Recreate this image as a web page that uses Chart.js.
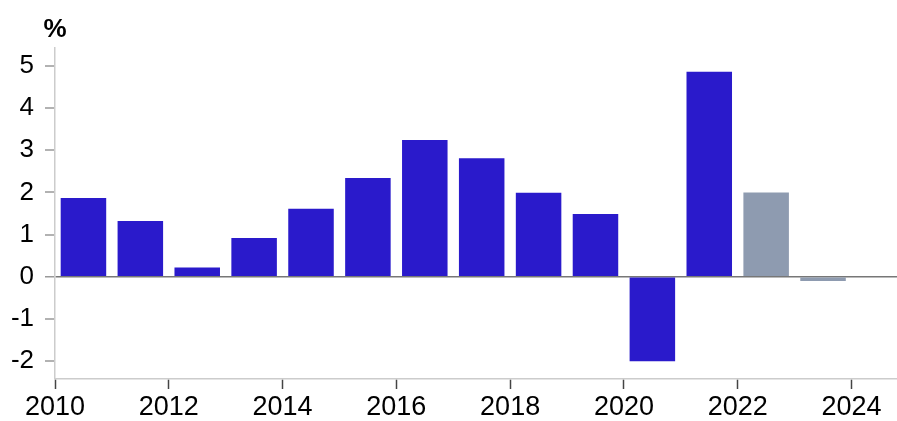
<!DOCTYPE html>
<html>
<head>
<meta charset="utf-8">
<script src="https://cdn.jsdelivr.net/npm/chart.js@4"></script>
<style>
    body { margin: 0; background: #fff; }
    #wrap { width: 897px; height: 421px; }
</style>
</head>
<body>
<div id="wrap"><canvas id="barChart"></canvas></div>
<script>
// Data
const years = [2010, 2011, 2012, 2013, 2014, 2015, 2016, 2017, 2018, 2019, 2020, 2021, 2022, 2023];
const values = [1.87, 1.32, 0.22, 0.92, 1.61, 2.34, 3.24, 2.81, 1.99, 1.49, -2.0, 4.86, 2.0, -0.1];
const forecastFrom = 2022; // bars from here on are grey
const xTicks = [2010, 2012, 2014, 2016, 2018, 2020, 2022, 2024];
const yTicks = [-2, -1, 0, 1, 2, 3, 4, 5];
const unitLabel = '%';

const FONT = "'Liberation Sans', Arial, sans-serif";
Chart.defaults.font.family = FONT;
Chart.defaults.font.size = 26;
Chart.defaults.color = '#000';

// Draws the "%" above the y axis
const unitPlugin = {
    id: 'unitLabel',
    afterDraw(chart) {
        const ctx = chart.ctx;
        ctx.save();
        ctx.font = 'bold 26px ' + FONT;
        ctx.fillStyle = '#000';
        ctx.textAlign = 'center';
        ctx.textBaseline = 'alphabetic';
        ctx.fillText(unitLabel, chart.chartArea.left, 37);
        ctx.restore();
    }
};

new Chart(document.getElementById('barChart'), {
    type: 'bar',
    data: {
        datasets: [{
            data: years.map((y, i) => ({ x: y + 0.5, y: values[i] })),
            backgroundColor: years.map(y => y >= forecastFrom ? '#8e9bb0' : '#2a1acb'),
            barPercentage: 0.8,
            categoryPercentage: 1
        }]
    },
    options: {
        responsive: true,
        maintainAspectRatio: false,
        animation: false,
        layout: { padding: { top: 48, right: 0, left: 0, bottom: 0 } },
        plugins: {
            legend: { display: false },
            tooltip: { enabled: false }
        },
        scales: {
            x: {
                type: 'linear',
                offset: false,
                min: 2010,
                max: 2024.8,
                afterBuildTicks: s => { s.ticks = xTicks.map(v => ({ value: v })); },
                afterFit: s => { s.height = 42; },
                ticks: {
                    callback: v => String(v),
                    padding: 2,
                    maxRotation: 0,
                    font: { size: 27 }
                },
                grid: {
                    offset: false,
                    drawOnChartArea: false,
                    drawTicks: true,
                    tickLength: 10,
                    tickColor: '#444',
                    tickWidth: 1.5
                },
                border: { color: '#ccc', width: 1.5 }
            },
            y: {
                min: -2.42,
                max: 5.42,
                afterBuildTicks: s => { s.ticks = yTicks.map(v => ({ value: v })); },
                afterFit: s => { s.width = 55; },
                ticks: { padding: 11 },
                grid: {
                    color: c => c.tick && c.tick.value === 0 ? '#777' : 'rgba(0,0,0,0)',
                    lineWidth: c => c.tick && c.tick.value === 0 ? 1.5 : 0,
                    tickLength: 10,
                    tickColor: '#999',
                    tickWidth: 1.5
                },
                border: { color: '#ccc', width: 1.5 }
            }
        }
    },
    plugins: [unitPlugin]
});
</script>
</body>
</html>
